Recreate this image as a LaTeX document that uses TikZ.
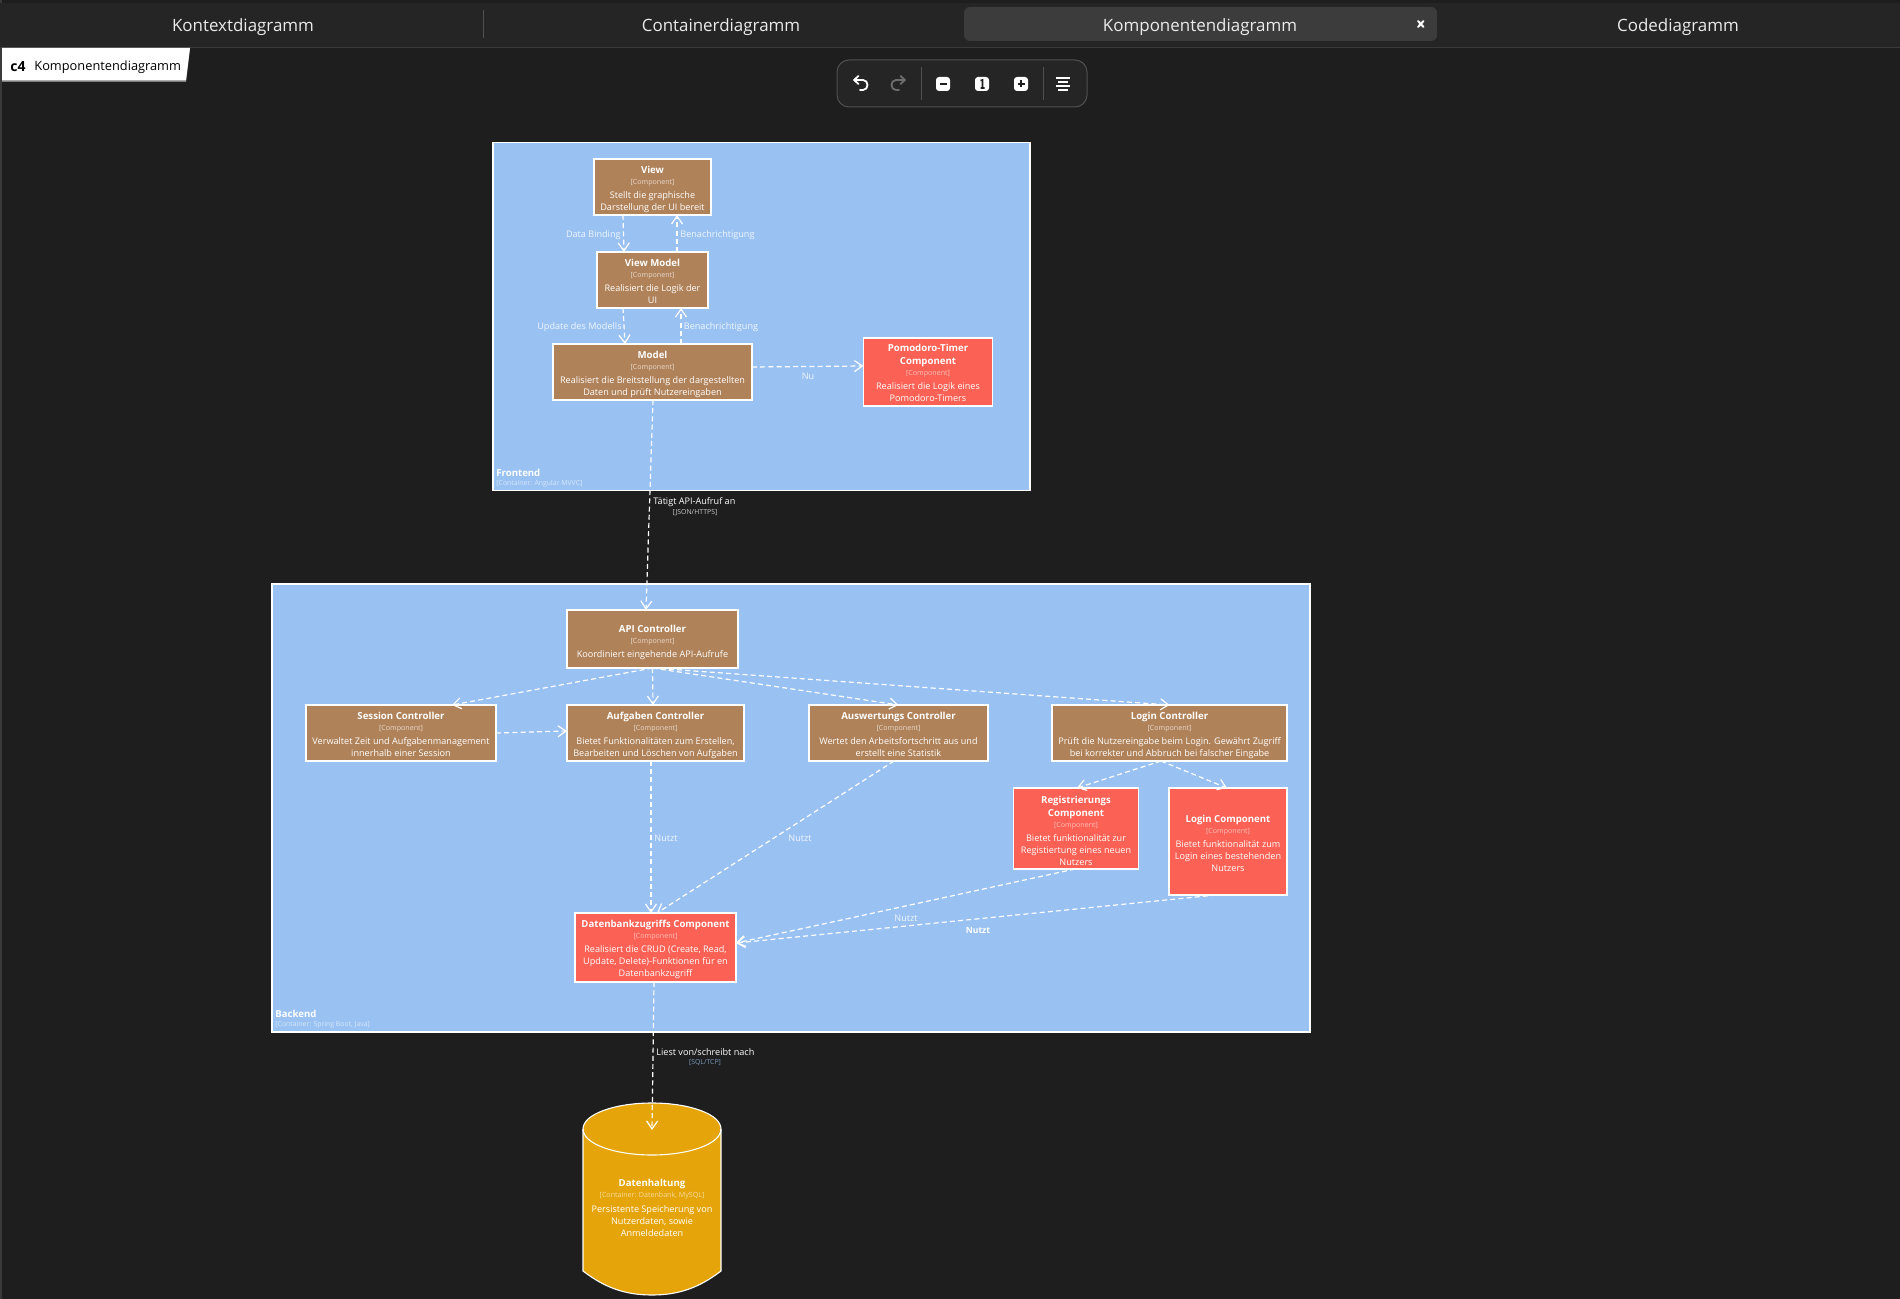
\documentclass[tikz,border=0pt]{standalone}
\usepackage{fontspec}
\setmainfont{Open Sans}
\usetikzlibrary{arrows.meta,calc}
\definecolor{bgc}{HTML}{1E1E1E}
\definecolor{barc}{HTML}{252525}
\definecolor{tabc}{HTML}{3C3C3C}
\definecolor{linec}{HTML}{3A3A3A}
\definecolor{linelight}{HTML}{505050}
\definecolor{brownc}{HTML}{B08259}
\definecolor{redc}{HTML}{FB6154}
\definecolor{bluec}{HTML}{99C2F3}
\definecolor{goldc}{HTML}{E5A50A}
\newcommand{\ttl}[1]{{\bfseries\fontsize{4.82}{6}\selectfont #1}}
\newcommand{\ttlf}[2][6.2]{\rule{0pt}{#1pt}\ttl{#2}}
\newcommand{\lst}{\rule[-1.2pt]{0pt}{0pt}}
\newcommand{\tgb}[1]{{\color{white!70!brownc}\fontsize{3.55}{6}\selectfont #1}}
\newcommand{\tgr}[1]{{\color{white!60!redc}\fontsize{3.55}{6}\selectfont #1}}
\newcommand{\tgy}[1]{{\color{white!60!goldc}\fontsize{3.55}{6}\selectfont #1}}
\tikzset{
  x=0.5pt,y=-0.5pt,
  comp/.style={draw=white,line width=0.55pt,fill=brownc,text=white,align=center,inner sep=0pt,outer sep=0pt,font=\fontsize{4.55}{6}\selectfont},
  compred/.style={comp,fill=redc},
  cont/.style={draw=white,line width=0.55pt,fill=bluec,inner sep=0pt,outer sep=0pt},
  conn/.style={draw=white,line width=0.6pt,dash pattern=on 2.5pt off 1.6pt,-{Straight Barb[length=4pt,width=5.5pt,line width=0.6pt]}},
  lab/.style={text=white,inner sep=0pt,font=\fontsize{4.55}{6}\selectfont},
  labbold/.style={lab,font=\bfseries\fontsize{4.3}{6}\selectfont},
  lablight/.style={lab,text=white!85!bluec},
  contlab/.style={text=white,inner sep=0pt,anchor=west,font=\bfseries\fontsize{4.8}{6}\selectfont},
  conttag/.style={text=white!60!bluec,inner sep=0pt,anchor=west,font=\fontsize{3.45}{6}\selectfont},
  edgetag/.style={inner sep=0pt,font=\fontsize{3.45}{6}\selectfont},
  tabtext/.style={text=white!92!black,inner sep=0pt,font=\fontsize{8.47}{11}\selectfont},
  icon/.style={draw=white,line width=0.9pt,line cap=round,line join=round}
}
\begin{document}
\begin{tikzpicture}
\useasboundingbox (0,0) rectangle (1900,1299);
\fill[bgc] (0,0) rectangle (1900,1299);
\fill[linec] (0,0) rectangle (1.5,1299);
% tab bar
\fill[barc] (0,3) rectangle (1900,47);
\draw[linec,line width=0.5pt] (0,47.5) -- (1900,47.5);
\fill[tabc,rounded corners=3pt] (964,7) rectangle (1437,41);
\draw[linelight,line width=0.5pt] (483,10) -- (483,38);
\node[tabtext] (tab1) at (243,27) {Kontextdiagramm};
\node[tabtext] (tab2) at (721,27) {Containerdiagramm};
\node[tabtext] (tab3) at (1200,27) {Komponentendiagramm};
\node[tabtext] (tab4) at (1678,27) {Codediagramm};
\draw[white,line width=1pt,line cap=round] (1418,21) -- (1423.5,27) (1423.5,21) -- (1418,27);
% title tag
\fill[gray] (2,48) -- (190,48) -- (186,82) -- (2,82) -- cycle;
\fill[white] (2,48) -- (190,48) -- (186,80.5) -- (2,80.5) -- cycle;
\node[inner sep=0pt,anchor=west,text=black,font=\bfseries\fontsize{7}{8}\selectfont] (c4) at (10,67) {c4};
\node[inner sep=0pt,anchor=west,text=black,font=\fontsize{6.4}{8}\selectfont] (t4) at (34,67) {Komponentendiagramm};
% toolbar
\draw[draw=linelight,fill=barc,line width=0.5pt,rounded corners=6pt] (837,60) rectangle (1087,107);
\draw[linelight,line width=0.5pt] (921,67) -- (921,100) (1043,67) -- (1043,100);
\draw[icon] (854,80) -- (858.5,76) (854,80) -- (858.5,84) (854,80) -- (863,80) .. controls (869,80) and (869,90) .. (863,90) -- (860,90);
\draw[icon,draw=white!35!bgc] (905,80) -- (900.5,76) (905,80) -- (900.5,84) (905,80) -- (896,80) .. controls (890,80) and (890,90) .. (896,90) -- (899,90);
\fill[white,rounded corners=1.5pt] (936,77) rectangle (950,91);
\draw[bgc,line width=0.9pt] (939.5,84) -- (946.5,84);
\fill[white,rounded corners=1.5pt] (975,77) rectangle (989,91);
\draw[bgc,line width=0.8pt] (980.5,80.5) -- (982.5,80) -- (982.5,88) (980.5,88) -- (984.5,88);
\fill[white,rounded corners=1.5pt] (1014,77) rectangle (1028,91);
\draw[bgc,line width=0.9pt] (1017.5,84) -- (1024.5,84) (1021,80.5) -- (1021,87.5);
\draw[white,line width=1pt] (1056,78) -- (1070,78) (1058,82) -- (1068,82) (1056,86) -- (1070,86) (1058,90) -- (1068,90);
% containers
\node[cont,minimum width=268.5pt,minimum height=174pt] (frontend) at (761.5,316.5) {};
\node[cont,minimum width=519pt,minimum height=224pt] (backend) at (791,808) {};
\node[contlab] (flab) at (496,473) {Frontend};
\node[conttag] (ftag) at (496,484) {[Container: Angular MVVC]};
\node[contlab] (blab) at (275,1014) {Backend};
\node[conttag] (btag) at (275,1025) {[Container: Spring Boot, Java]};
% frontend components
\node[comp,minimum width=58.5pt,minimum height=28pt] (view) at (652.5,187) {\ttlf{View}\\[-0.5pt]\tgb{[Component]}\\[1.2pt]Stellt die graphische\\Darstellung der UI bereit\lst};
\node[comp,minimum width=55.5pt,minimum height=28pt] (vm) at (652.5,280) {\ttlf{View Model}\\[-0.5pt]\tgb{[Component]}\\[1.2pt]Realisiert die Logik der\\UI\lst};
\node[comp,minimum width=99.5pt,minimum height=28pt] (model) at (652.5,372) {\ttlf{Model}\\[-0.5pt]\tgb{[Component]}\\[1.2pt]Realisiert die Breitstellung der dargestellten\\Daten und prüft Nutzereingaben\lst};
\node[compred,minimum width=64.5pt,minimum height=34pt] (pomo) at (928,372) {\ttlf[5.9]{Pomodoro-Timer}\\[0.5pt]\ttl{Component}\\[-0.5pt]\tgr{[Component]}\\[1.2pt]Realisiert die Logik eines\\Pomodoro-Timers\lst};
% backend components
\node[comp,minimum width=85.5pt,minimum height=29pt] (api) at (652.5,639) {\ttlf[7.4]{API Controller}\\[-0.5pt]\tgb{[Component]}\\[1.2pt]Koordiniert eingehende API-Aufrufe\lst};
\node[comp,minimum width=95pt,minimum height=28pt] (session) at (401,733) {\ttlf{Session Controller}\\[-0.5pt]\tgb{[Component]}\\[1.2pt]Verwaltet Zeit und Aufgabenmanagement\\innerhalb einer Session\lst};
\node[comp,minimum width=88.5pt,minimum height=28pt] (aufgaben) at (655.5,733) {\ttlf{Aufgaben Controller}\\[-0.5pt]\tgb{[Component]}\\[1.2pt]Bietet Funktionalitäten zum Erstellen,\\Bearbeiten und Löschen von Aufgaben\lst};
\node[comp,minimum width=89.5pt,minimum height=28pt] (ausw) at (898.5,733) {\ttlf{Auswertungs Controller}\\[-0.5pt]\tgb{[Component]}\\[1.2pt]Wertet den Arbeitsfortschritt aus und\\erstellt eine Statistik\lst};
\node[comp,minimum width=117.5pt,minimum height=28pt] (login) at (1169.5,733) {\ttlf{Login Controller}\\[-0.5pt]\tgb{[Component]}\\[1.2pt]Prüft die Nutzereingabe beim Login. Gewährt Zugriff\\bei korrekter und Abbruch bei falscher Eingabe\lst};
\node[compred,minimum width=62.5pt,minimum height=40.5pt] (reg) at (1076,828.5) {\ttlf[7.4]{Registrierungs}\\[0.5pt]\ttl{Component}\\[-0.5pt]\tgr{[Component]}\\[1.2pt]Bietet funktionalität zur\\Registiertung eines neuen\\Nutzers\lst};
\node[compred,minimum width=59pt,minimum height=53.5pt] (logc) at (1228,841.5) {\ttlf[6.4]{Login Component}\\[-0.5pt]\tgr{[Component]}\\[1.2pt]Bietet funktionalität zum\\Login eines bestehenden\\Nutzers\lst};
\node[compred,minimum width=80.5pt,minimum height=34.5pt] (dba) at (655.5,947.5) {\ttlf[5.9]{Datenbankzugriffs Component}\\[-0.5pt]\tgr{[Component]}\\[1.2pt]Realisiert die CRUD (Create, Read,\\Update, Delete)-Funktionen für en\\Datenbankzugriff\lst};
% database cylinder
\path[fill=goldc,draw=white,line width=0.55pt] (583,1129) .. controls (583,1114) and (615,1103) .. (652,1103) .. controls (689,1103) and (721,1114) .. (721,1129) -- (721,1271) .. controls (700,1287) and (680,1295) .. (652,1295) .. controls (624,1295) and (604,1287) .. (583,1271) -- cycle;
\draw[white,line width=0.55pt] (583,1129) .. controls (583,1144) and (615,1155) .. (652,1155) .. controls (689,1155) and (721,1144) .. (721,1129);
\node[text=white,align=center,inner sep=0pt,font=\fontsize{4.55}{6}\selectfont] (db) at (652,1208) {\ttl{Datenhaltung}\\[-0.5pt]\tgy{[Container: Datenbank, MySQL]}\\[1.2pt]Persistente Speicherung von\\Nutzerdaten, sowie\\Anmeldedaten};
% connectors
\draw[conn] ([xshift=-14.75pt]view.south) -- ([xshift=-14.25pt]vm.north);
\draw[conn] ([xshift=12.25pt]vm.north) -- ([xshift=12.25pt]view.south);
\draw[conn] ([xshift=-14.75pt]vm.south) -- ([xshift=-13.75pt]model.north);
\draw[conn] ([xshift=14.25pt]model.north) -- ([xshift=14.25pt]vm.south);
\draw[conn] ([yshift=2.5pt]model.east) -- ([yshift=3pt]pomo.west);
\draw[conn] ([xshift=0.25pt]model.south) -- ([xshift=-3.25pt]api.north);
\draw[conn] (api.south) -- ([xshift=25.5pt]session.north);
\draw[conn] (api.south) -- ([xshift=-1.25pt]aufgaben.north);
\draw[conn] (api.south) -- (ausw.north);
\draw[conn] (api.south) -- (login.north);
\draw[conn] (session.east) -- ([yshift=1pt]aufgaben.west);
\draw[conn] ([xshift=-2.25pt]aufgaben.south) -- ([xshift=-2.25pt]dba.north);
\draw[conn] ([xshift=-2.25pt]ausw.south) -- ([xshift=0.75pt]dba.north);
\draw[conn] ([xshift=-4.25pt]login.south) -- ([xshift=0.5pt]reg.north);
\draw[conn] ([xshift=-4.25pt]login.south) -- ([xshift=-0.5pt]logc.north);
\draw[conn] ([xshift=-0.5pt]reg.south) -- ([yshift=2.25pt]dba.east);
\draw[conn] ([xshift=-6pt]logc.south) -- ([yshift=2.25pt]dba.east);
\draw[conn] ([xshift=-0.75pt]dba.south) -- ([yshift=39pt]db.center);
% connector labels
\node[lablight,anchor=east] (l1) at (621,235) {Data Binding};
\node[lablight,anchor=west] (l2) at (680,235) {Benachrichtigung};
\node[lablight,anchor=east] (l3) at (622,327) {Update des Modells};
\node[lablight,anchor=west] (l4) at (683.5,327) {Benachrichtigung};
\node[lablight] (l5) at (808,376) {Nu};
\node[lab,anchor=west] (l6) at (653,502) {Tätigt API-Aufruf an};
\node[edgetag,text=white!75!bgc] (l6t) at (695,512.5) {[JSON/HTTPS]};
\node[lablight,anchor=west] (l7) at (654,838) {Nutzt};
\node[lablight] (l8) at (800,838) {Nutzt};
\node[lablight] (l9) at (906,918) {Nutzt};
\node[labbold] (l10) at (978,930) {Nutzt};
\node[lab,anchor=west] (l11) at (656,1052) {Liest von/schreibt nach};
\node[edgetag,text=bluec!75!bgc] (l11t) at (705,1062.5) {[SQL/TCP]};
\end{tikzpicture}
\end{document}
